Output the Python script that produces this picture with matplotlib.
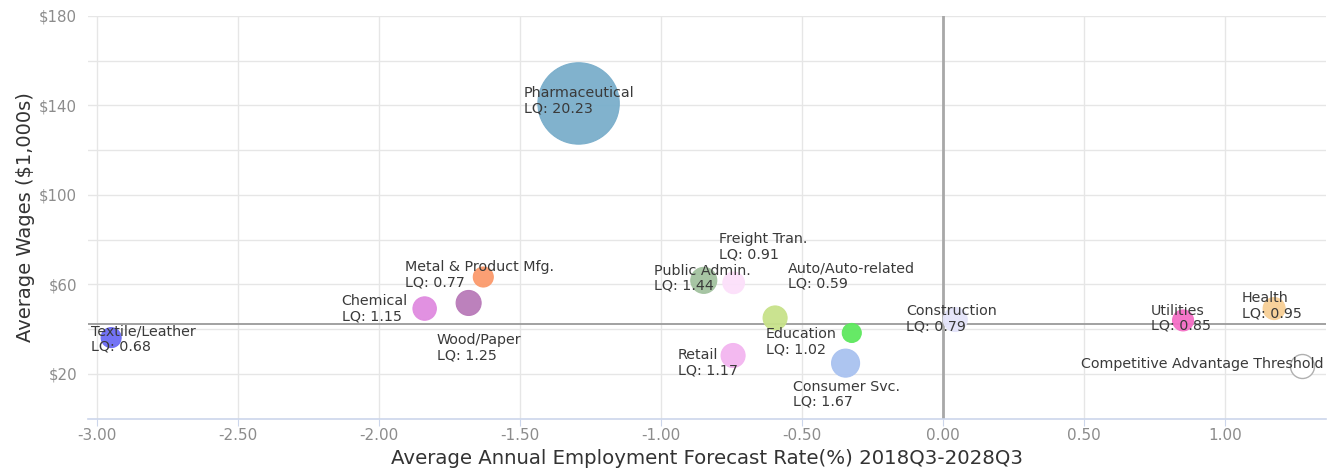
import numpy as np
import matplotlib
matplotlib.use("Agg")
import matplotlib.pyplot as plt

# industries
names = ["Textile/Leather", "Chemical", "Wood/Paper", "Metal & Product Mfg.",
         "Pharmaceutical", "Public Admin.", "Freight Tran.", "Auto/Auto-related",
         "Education", "Retail", "Consumer Svc.", "Construction",
         "Utilities", "Health"]
lq = ["0.68", "1.15", "1.25", "0.77", "20.23", "1.44", "0.91", "0.59",
      "1.02", "1.17", "1.67", "0.79", "0.85", "0.95"]
growth = [-2.951, -1.839, -1.683, -1.631, -1.293, -0.849, -0.743, -0.596,
          -0.324, -0.745, -0.346, 0.043, 0.851, 1.174]
wages = [36.2, 49.2, 51.7, 63.3, 140.9, 61.8, 60.7, 45.0,
         38.3, 28.2, 24.8, 44.3, 43.9, 49.2]
bubble = [10, 11.7, 12.5, 10, 40.7, 13, 10.8, 12, 9.5, 12, 14, 12, 10.5, 11]

threshold_x = 1.273
threshold_y = 23.7
threshold_bubble = 12
wage_line = 42.1

colors = ["#6b6bf5", "#e08be0", "#b97ab9", "#fb9a6c", "#7aaecb", "#a2c29f",
          "#fce0fa", "#c8e28a", "#5ee85e", "#f3b5f0", "#a9c2f0", "#e4e4fa",
          "#f56fc6", "#f7cf96"]
# label offsets in pixels (dx, dy) from the bubble centre
offsets = [(-20, -1), (-83, 0), (-32, -45), (-78, 2), (-55, 3), (-50, 2),
           (-15, 36), (13, 42), (-86, -9), (-55, -7), (-53, -31), (-49, 1),
           (-32, 2), (-32, 3)]

fig = plt.figure(figsize=(13.33, 4.72), dpi=100)
ax = fig.add_axes([88.3 / 1333, 1 - 418.6 / 472, (1326 - 88.3) / 1333, (418.6 - 16) / 472])

sizes = (2 * np.array(bubble) * 0.72) ** 2
ax.scatter(growth, wages, s=sizes, c=colors, edgecolors=colors, linewidths=0.8,
           alpha=0.95, zorder=3)
ax.scatter([threshold_x], [threshold_y], s=(2 * threshold_bubble * 0.72) ** 2,
           facecolors="white", edgecolors="#b0b0b0", linewidths=1, zorder=3)

for i in range(len(names)):
    ax.annotate(names[i] + "\nLQ: " + lq[i], (growth[i], wages[i]),
                xytext=offsets[i], textcoords="offset pixels",
                ha="left", va="center", fontsize=10.3, color="#3a3a3a",
                linespacing=1.1, zorder=4)
ax.annotate("Competitive Advantage Threshold", (threshold_x, threshold_y),
            xytext=(21, 2), textcoords="offset pixels", ha="right", va="center",
            fontsize=10.3, color="#3a3a3a", zorder=4)

ax.axhline(wage_line, color="#9a9a9a", linewidth=1.3, zorder=2)
ax.axvline(0, color="#a8a8a8", linewidth=2, zorder=2)

ax.set_xlim(-3.032, 1.358)
ax.set_ylim(0, 180)
ax.set_xticks(np.arange(-3.0, 1.01, 0.5))
ax.set_xticklabels(["%.2f" % v for v in np.arange(-3.0, 1.01, 0.5)])
yt = np.arange(20, 181, 20)
ax.set_yticks(yt)
ax.set_yticklabels(["$%d" % v if v % 40 == 20 else "" for v in yt])
ax.grid(True, color="#e6e6e6", linewidth=1, zorder=0)
ax.set_axisbelow(True)

for s in ["top", "right", "left"]:
    ax.spines[s].set_visible(False)
ax.spines["bottom"].set_color("#ccd6eb")
ax.spines["bottom"].set_linewidth(1.2)
ax.tick_params(axis="x", colors="#ccd6eb", length=5, labelcolor="#8c8c8c",
               labelsize=11, pad=2)
ax.tick_params(axis="y", length=0, labelcolor="#8c8c8c", labelsize=10.8, pad=8)

ax.set_xlabel("Average Annual Employment Forecast Rate(%) 2018Q3-2028Q3",
              fontsize=14.2, color="#333333", va="center")
ax.xaxis.set_label_coords(0.5, -0.1003)
ax.set_ylabel("Average Wages ($1,000s)", fontsize=14, color="#333333", va="center")
ax.yaxis.set_label_coords(-0.0511, 0.5)

fig.savefig("out.png", dpi=100)
